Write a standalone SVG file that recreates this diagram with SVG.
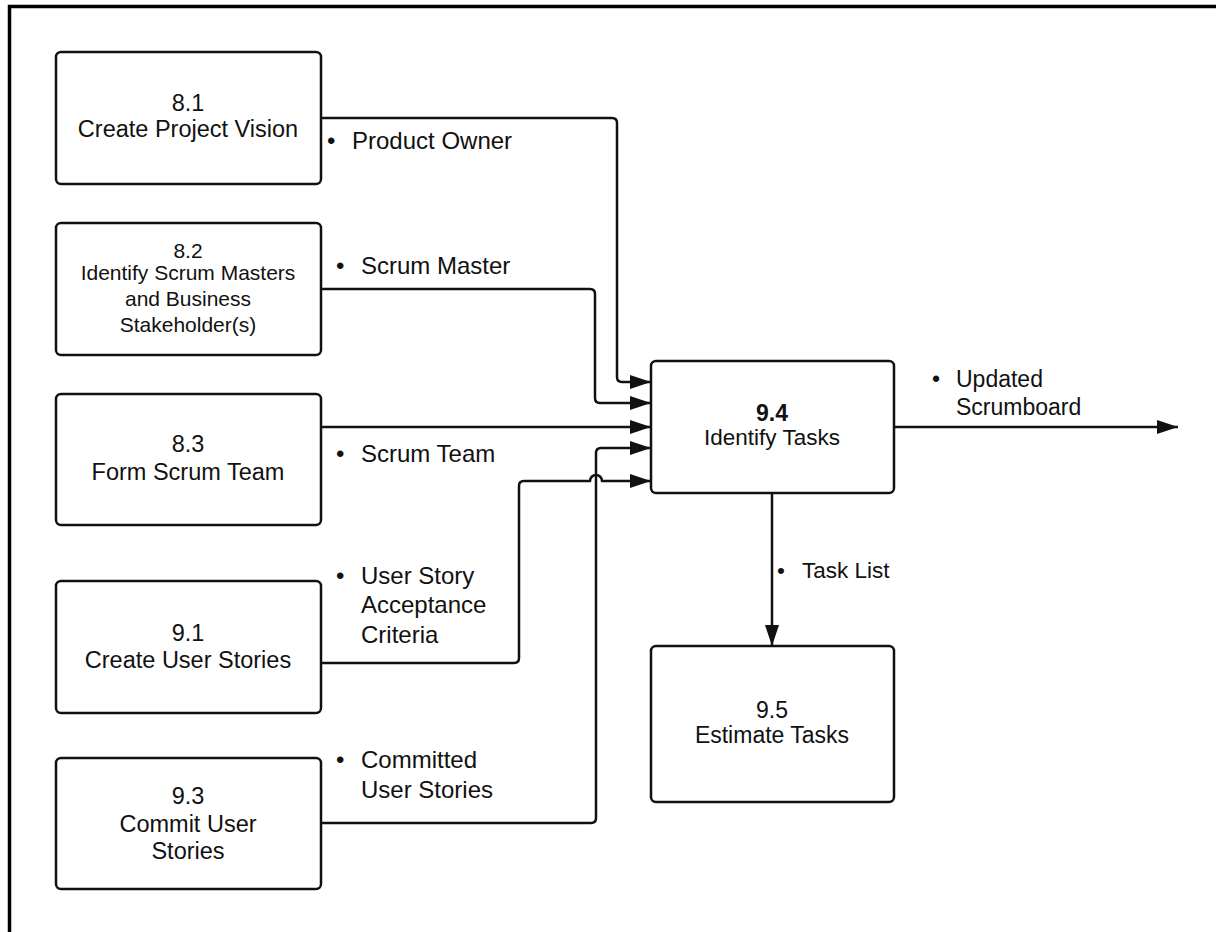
<svg xmlns="http://www.w3.org/2000/svg" width="1216" height="932" viewBox="0 0 1216 932">
<style>
.box{fill:#fff;stroke:#111;stroke-width:2.5}
.t{font-family:"Liberation Sans",Arial,sans-serif;fill:#111;text-anchor:middle}
.lb{font-family:"Liberation Sans",Arial,sans-serif;fill:#111;font-size:24px}
.c{fill:none;stroke:#111;stroke-width:2.5;stroke-linejoin:round}
.a{marker-end:url(#ah)}
</style>
<defs>
<marker id="ah" markerUnits="userSpaceOnUse" markerWidth="21" markerHeight="16" refX="21" refY="8" orient="auto">
<path d="M0,1 L21,8 L0,15 z" fill="#111"/>
</marker>
</defs>
<rect width="1216" height="932" fill="#fff"/>
<path d="M9.5,932 V6.5 H1216" fill="none" stroke="#000" stroke-width="3.5"/>

<g id="connectors">
<path class="c a" d="M320,118 H612 Q617,118 617,123 V377 Q617,382 622,382 H651"/>
<path class="c a" d="M320,289 H590 Q595,289 595,294 V398 Q595,403 600,403 H651"/>
<path class="c a" d="M320,427 H651"/>
<path class="c a" d="M320,823 H591 Q596,823 596,818 V453 Q596,448 601,448 H651"/>
<path class="c a" d="M320,663 H514 Q519,663 519,658 V486 Q519,481 524,481 H590 A6,6 0 0 1 602,481 H651"/>
<path class="c a" d="M894,427 H1178"/>
<path class="c a" d="M772,493 V646"/>
</g>

<g id="lbl-po"><text class="lb" x="327" y="149">•</text><text class="lb" x="352" y="149">Product Owner</text></g>
<g id="lbl-sm"><text class="lb" x="336" y="274">•</text><text class="lb" x="361" y="274">Scrum Master</text></g>
<g id="lbl-st"><text class="lb" x="336" y="462">•</text><text class="lb" x="361" y="462">Scrum Team</text></g>
<g id="lbl-usac"><text class="lb" x="336" y="584">•</text><text class="lb" x="361" y="584">User Story</text><text class="lb" x="361" y="613">Acceptance</text><text class="lb" x="361" y="643">Criteria</text></g>
<g id="lbl-cus"><text class="lb" x="336" y="768">•</text><text class="lb" x="361" y="768">Committed</text><text class="lb" x="361" y="798">User Stories</text></g>
<g id="lbl-us"><text class="lb" x="932" y="387" style="font-size:23px">•</text><text class="lb" x="956" y="387" style="font-size:23px">Updated</text><text class="lb" x="956" y="415" style="font-size:23px">Scrumboard</text></g>
<g id="lbl-tl"><text class="lb" x="777" y="578" style="font-size:22.5px">•</text><text class="lb" x="802" y="578" style="font-size:22.5px">Task List</text></g>

<g id="n81"><rect class="box" x="56" y="52" width="265" height="132" rx="5"/>
<text class="t" x="188" y="111" font-size="23.5">8.1</text><text class="t" x="188" y="137" font-size="23.5">Create Project Vision</text></g>

<g id="n82"><rect class="box" x="56" y="223" width="265" height="132" rx="5"/>
<text class="t" x="188" y="258" font-size="21">8.2</text><text class="t" x="188" y="280" font-size="21">Identify Scrum Masters</text><text class="t" x="188" y="306" font-size="21">and Business</text><text class="t" x="188" y="332" font-size="21">Stakeholder(s)</text></g>

<g id="n83"><rect class="box" x="56" y="394" width="265" height="131" rx="5"/>
<text class="t" x="188" y="452" font-size="23.5">8.3</text><text class="t" x="188" y="480" font-size="23.5">Form Scrum Team</text></g>

<g id="n91"><rect class="box" x="56" y="581" width="265" height="132" rx="5"/>
<text class="t" x="188" y="641" font-size="23.5">9.1</text><text class="t" x="188" y="668" font-size="23.5">Create User Stories</text></g>

<g id="n93"><rect class="box" x="56" y="758" width="265" height="131" rx="5"/>
<text class="t" x="188" y="804" font-size="23.5">9.3</text><text class="t" x="188" y="832" font-size="23.5">Commit User</text><text class="t" x="188" y="859" font-size="23.5">Stories</text></g>

<g id="n94"><rect class="box" x="651" y="361" width="243" height="132" rx="5"/>
<text class="t" x="772" y="421" font-size="23" font-weight="bold">9.4</text><text class="t" x="772" y="445" font-size="22.5">Identify Tasks</text></g>

<g id="n95"><rect class="box" x="651" y="646" width="243" height="156" rx="5"/>
<text class="t" x="772" y="718" font-size="23">9.5</text><text class="t" x="772" y="743" font-size="23">Estimate Tasks</text></g>
</svg>
